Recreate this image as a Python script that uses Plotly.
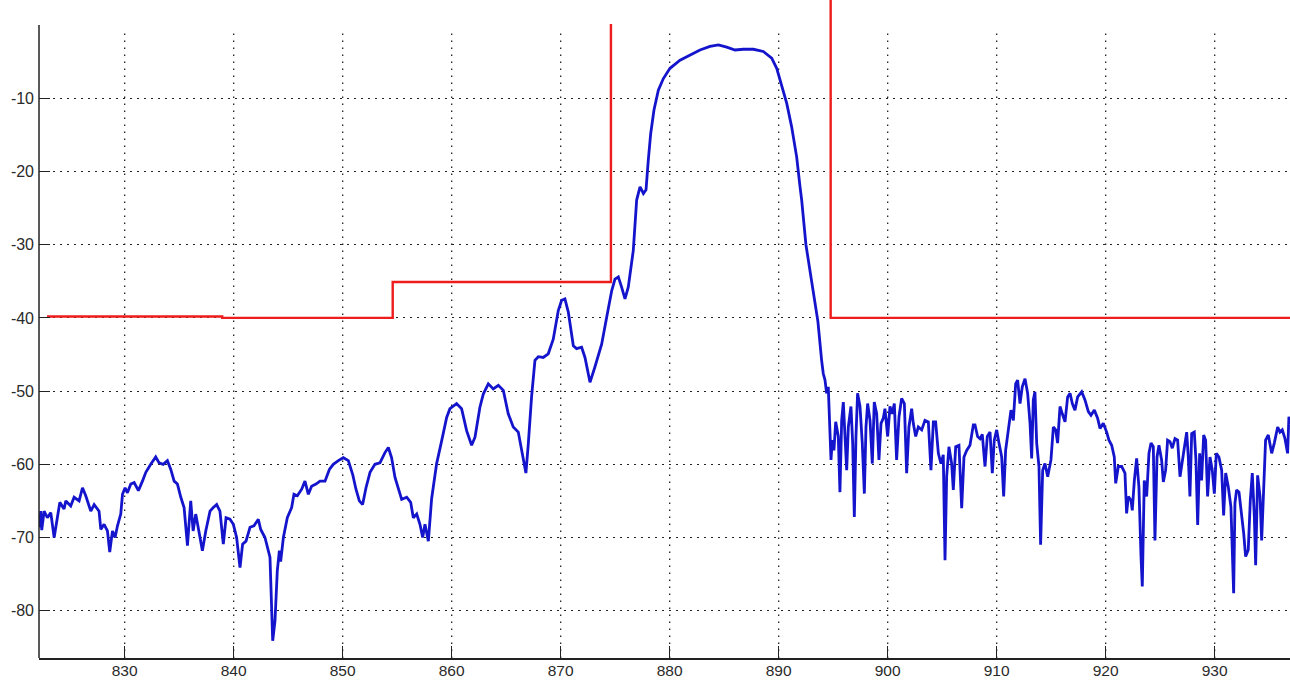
import plotly.graph_objects as go

# ---- data ----
freq_mhz = [
    822.15, 822.30, 822.39, 822.61, 822.91, 823.22, 823.53, 823.83, 824.05, 824.44,
    824.60, 825.05, 825.36, 825.82, 826.13, 826.43, 826.89, 827.20, 827.65, 827.81,
    828.11, 828.42, 828.63, 828.88, 829.12, 829.34, 829.64, 829.80, 830.04, 830.25,
    830.56, 830.87, 831.26, 831.63, 831.94, 832.39, 832.85, 833.16, 833.53, 833.92,
    834.23, 834.54, 834.84, 835.15, 835.45, 835.76, 836.06, 836.28, 836.52, 836.83,
    837.13, 837.44,
    837.83, 838.13, 838.44, 838.74, 839.05, 839.30, 839.66, 839.97, 840.27, 840.58,
    840.82, 841.13, 841.50, 841.86, 842.26, 842.48, 842.87, 843.33, 843.48, 843.58,
    843.79, 844.00, 844.19, 844.31, 844.56, 844.92, 845.32, 845.53, 845.84, 846.24,
    846.54, 846.85, 847.15, 847.55, 847.92, 848.38, 848.78, 849.14, 849.60, 850.06,
    850.52, 850.92, 851.22, 851.53, 851.83, 852.14, 852.51, 852.96, 853.42, 853.88,
    854.19, 854.49, 854.80, 855.11, 855.41, 855.87, 856.24, 856.48, 856.79, 857.09,
    857.34, 857.55, 857.86,
    858.16, 858.62, 859.08, 859.54, 859.84, 860.45, 860.91, 861.37, 861.83, 862.14,
    862.59, 862.90, 863.36, 863.82, 864.28, 864.74, 865.19, 865.65, 866.11, 866.57,
    866.81, 867.03, 867.33, 867.64, 867.95, 868.40, 868.86, 869.32, 869.78, 870.09,
    870.39, 870.70, 871.16, 871.46, 871.92, 872.23, 872.69, 873.14, 873.76, 874.22,
    874.68, 874.98, 875.29, 875.59, 875.90, 876.20, 876.51, 876.66,
    876.97, 877.28, 877.59, 877.83, 878.04, 878.26, 878.56, 878.96, 879.42, 880.03,
    880.95, 881.87, 882.78, 883.70, 884.47, 885.23, 886.00, 886.76, 887.68, 888.59,
    889.36, 889.82, 890.28, 890.74, 891.19, 891.65, 891.96, 892.11, 892.50, 893.10,
    893.60,
    893.94, 894.09, 894.25, 894.40, 894.55, 894.71, 894.80, 894.92, 895.07, 895.23,
    895.47, 895.62, 895.78, 895.93, 896.14, 896.24, 896.39, 896.63, 896.79, 896.94,
    897.09, 897.24, 897.46, 897.67, 897.86, 898.01, 898.16, 898.38, 898.59, 898.77,
    898.99, 899.20, 899.39, 899.60, 899.75, 900.00, 900.21, 900.42, 900.61, 900.82,
    901.04, 901.28, 901.53, 901.74, 901.95, 902.20, 902.35, 902.57, 902.81, 903.12,
    903.42, 903.73, 903.97, 904.19, 904.40, 904.65, 904.89, 905.10, 905.26, 905.41,
    905.62, 905.87, 906.02, 906.24, 906.54, 906.79, 907.00, 907.25, 907.55, 907.86,
    908.01, 908.25, 908.47, 908.68, 908.93, 909.14, 909.39, 909.60, 909.78, 910.00,
    910.21, 910.46, 910.64, 910.82, 911.07, 911.31, 911.53, 911.74, 911.92, 912.14,
    912.35, 912.60, 912.84, 913.06, 913.21, 913.36, 913.51, 913.67, 913.88, 914.03,
    914.22, 914.43, 914.68, 914.98, 915.20, 915.41, 915.59, 915.81, 916.02, 916.27,
    916.51, 916.73, 916.94, 917.18, 917.43, 917.80, 918.10, 918.41, 918.65, 918.96,
    919.26, 919.48, 919.78, 920.09, 920.30, 920.55, 920.79, 920.92, 921.16, 921.47,
    921.77, 921.92, 922.08, 922.32, 922.44, 922.63, 922.84, 923.05, 923.24, 923.36,
    923.54, 923.76, 923.97, 924.16, 924.37, 924.52, 924.71, 924.89, 925.13, 925.29,
    925.50, 925.68, 925.90, 926.11, 926.36, 926.60, 926.82, 927.03, 927.21, 927.43,
    927.58, 927.73, 927.89, 928.13, 928.28, 928.44, 928.62, 928.80, 928.99, 929.17,
    929.35, 929.57, 929.78, 929.97, 930.15, 930.39, 930.64, 930.82, 931.01, 931.25,
    931.49, 931.62, 931.74, 931.86, 932.01, 932.23, 932.47, 932.66, 932.84, 933.08,
    933.27, 933.45, 933.64, 933.76, 933.94, 934.16, 934.31, 934.49, 934.67, 934.92,
    935.23, 935.47, 935.78, 935.99, 936.20, 936.45, 936.69, 936.81, 936.91,
]

level_db = [
    -68.6, -66.4, -69.0, -66.4, -67.3, -66.6, -70.0, -67.3, -65.2, -66.1,
    -65.0, -65.7, -64.5, -65.0, -63.2, -64.3, -66.4, -65.5, -66.4, -68.9,
    -68.2, -69.1, -72.0, -69.1, -70.0, -68.4, -66.8, -64.1, -63.2, -63.9,
    -62.7, -62.5, -63.6, -62.3, -61.1, -60.0, -59.0, -59.8, -60.0, -59.5,
    -60.7, -62.3, -62.7, -64.5, -65.9, -71.1, -65.0, -69.1, -66.8, -69.3,
    -71.8, -69.1,
    -66.4, -65.9, -65.5, -66.4, -70.9, -67.3, -67.5, -68.2, -70.0, -74.1,
    -70.9, -70.5, -68.6, -68.4, -67.5, -68.9, -70.0, -72.7, -78.2, -84.1,
    -81.4, -74.6, -71.8, -73.3, -70.0, -67.3, -65.9, -64.1, -64.3, -63.4,
    -62.3, -64.1, -63.0, -62.7, -62.3, -62.3, -60.7, -60.0, -59.5, -59.1,
    -59.5, -61.4, -63.4, -65.0, -65.5, -63.2, -61.1, -60.0, -59.8, -58.4,
    -57.7, -59.1, -61.8, -63.4, -64.8, -64.5, -65.2, -67.3, -66.8, -68.2,
    -70.0, -68.2, -70.5,
    -64.7, -59.9, -56.8, -53.6, -52.4, -51.7, -52.4, -55.4, -57.4, -56.3,
    -52.2, -50.4, -49.0, -49.7, -49.2, -49.9, -53.1, -54.9, -55.6, -59.0,
    -61.2, -57.2, -50.8, -45.8, -45.3, -45.4, -44.9, -42.9, -39.0, -37.6,
    -37.4, -39.2, -43.8, -44.2, -44.0, -45.4, -48.8, -46.7, -43.6, -39.9,
    -36.3, -34.7, -34.4, -35.8, -37.4, -35.8, -32.6, -30.8,
    -23.9, -22.1, -23.0, -22.5, -18.4, -14.8, -11.6, -8.9, -7.3, -5.9,
    -4.8, -4.1, -3.4, -2.9, -2.7, -3.0, -3.4, -3.3, -3.3, -3.6,
    -4.5, -5.9, -8.2, -10.7, -13.9, -18.0, -22.1, -23.9, -30.0, -36.0,
    -40.5,
    -45.8, -47.6, -48.5, -50.3, -49.4, -55.3, -59.4, -56.7, -58.1, -54.2,
    -56.2, -63.8, -54.0, -51.5, -57.6, -60.8, -54.9, -52.1, -57.1, -67.2,
    -56.2, -50.3, -52.1, -57.1, -64.0, -54.9, -51.7, -54.0, -59.9, -51.5,
    -53.1, -59.4, -54.4, -53.7, -52.4, -56.2, -52.1, -53.1, -51.7, -59.4,
    -53.5, -51.0, -51.7, -61.2, -54.9, -52.4, -54.4, -56.2, -54.9, -55.3,
    -54.0, -54.2, -60.8, -54.2, -54.2, -58.5, -59.9, -58.7, -73.1, -61.7,
    -57.6, -59.9, -63.5, -57.6, -57.4, -66.0, -59.0, -58.1, -57.4, -54.6,
    -54.6, -56.2, -56.5, -55.9, -60.3, -56.2, -55.6, -61.2, -56.7, -55.3,
    -57.1, -59.0, -64.4, -58.1, -55.3, -52.6, -54.0, -49.0, -48.5, -51.7,
    -49.4, -48.3, -50.3, -54.4, -59.2, -51.2, -50.1, -57.1, -60.3, -71.0,
    -60.8, -59.9, -61.7, -59.4, -54.9, -55.3, -57.1, -52.1, -53.1, -54.2,
    -50.8, -50.3, -51.7, -52.6, -50.8, -50.1, -51.2, -52.8, -53.3, -52.6,
    -53.7, -55.1, -54.4, -55.6, -56.7, -57.4, -59.0, -62.6, -60.3, -60.3,
    -61.2, -66.7, -64.4, -64.9, -66.3, -62.2, -59.2, -63.1, -72.6, -76.7,
    -62.2, -64.4, -58.5, -57.1, -57.6, -70.4, -59.0, -57.4, -59.4, -62.4,
    -60.8, -56.7, -56.9, -57.8, -56.5, -56.7, -61.7, -59.4, -58.1, -55.6,
    -59.0, -64.4, -55.8, -55.6, -59.4, -68.3, -58.5, -62.2, -56.0, -56.7,
    -64.4, -59.0, -60.8, -64.0, -58.5, -59.0, -60.8, -67.0, -61.2, -63.1,
    -65.8, -72.9, -77.6, -65.3, -63.5, -63.8, -66.7, -69.4, -72.6, -71.7,
    -64.9, -61.2, -67.2, -73.8, -61.5, -64.4, -70.4, -62.2, -56.7, -56.0,
    -58.5, -57.1, -54.9, -55.6, -55.3, -56.5, -58.5, -53.5, -54.5,
]

# emission mask (red); None marks the part that runs off the top of the view
mask_x = [822.87, 838.95, 838.95, 854.59, 854.59, 874.61, 874.61, None, 894.77, 894.77, 936.91]
mask_y = [-39.8, -39.8, -40.0, -40.0, -35.1, -35.1, 0.15, None, 8.0, -40.0, -40.0]

x_ticks = [830, 840, 850, 860, 870, 880, 890, 900, 910, 920, 930]
y_ticks = [-80, -70, -60, -50, -40, -30, -20, -10]

X_RANGE = [822.14, 936.91]
Y_RANGE = [-86.46, 3.43]

AXIS_COLOR = "#222222"
GRID_DASH = "1.5px,5.5px"

fig = go.Figure()

fig.add_trace(go.Scatter(
    x=freq_mhz, y=level_db, mode="lines",
    line=dict(color="#1414cc", width=2.8),
    showlegend=False, hoverinfo="skip",
))
fig.add_trace(go.Scatter(
    x=mask_x, y=mask_y, mode="lines", connectgaps=False,
    line=dict(color="#ee1c1c", width=2.4),
    showlegend=False, hoverinfo="skip",
))

# vertical dotted grid (stops at the 0 dB level, like the reference)
for v in x_ticks:
    fig.add_shape(type="line", xref="x", yref="y", x0=v, x1=v,
                  y0=Y_RANGE[0], y1=-0.8, layer="below",
                  line=dict(color=AXIS_COLOR, width=1.3, dash=GRID_DASH))
# left axis line, ending at 0 dB
fig.add_shape(type="line", xref="paper", yref="y", x0=0, x1=0,
              y0=Y_RANGE[0], y1=0, layer="above",
              line=dict(color=AXIS_COLOR, width=1.5))

fig.update_layout(
    width=1290, height=680,
    margin=dict(l=39, r=0, t=0, b=22),
    paper_bgcolor="white", plot_bgcolor="white",
    font=dict(family="Liberation Sans, Arial, sans-serif", size=16, color="#2a2a2a"),
    xaxis=dict(
        range=X_RANGE, tickvals=x_ticks, ticktext=[str(v) for v in x_ticks],
        showgrid=False, zeroline=False, automargin=False,
        showline=True, linecolor=AXIS_COLOR, linewidth=1.5,
        ticks="inside", ticklen=12, tickwidth=1.3, tickcolor=AXIS_COLOR,
        ticklabelstandoff=-2, tickfont=dict(size=15.5),
    ),
    yaxis=dict(
        range=Y_RANGE, tickvals=y_ticks, ticktext=[str(v) for v in y_ticks],
        showgrid=True, gridcolor=AXIS_COLOR, gridwidth=1.3, griddash=GRID_DASH,
        zeroline=False, showline=False, automargin=False,
        ticks="inside", ticklen=11, tickwidth=1.3, tickcolor=AXIS_COLOR,
        ticklabelstandoff=4,
    ),
)

fig.write_html(
    "out.html",
    config={"displayModeBar": False},
    post_script="document.body.style.margin='0';document.body.style.padding='0';",
)
